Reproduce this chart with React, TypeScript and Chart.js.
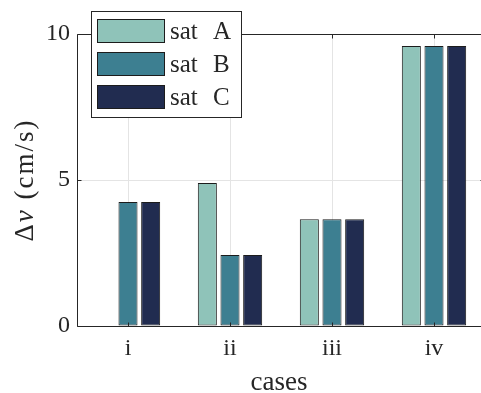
import { useEffect, useRef } from 'react';
import { Chart, registerables } from 'chart.js';

Chart.register(...registerables);

// Δv per case for each satellite (cm/s)
const cases = ['i', 'ii', 'iii', 'iv'];
const satA = [0, 4.9, 3.66, 9.59];
const satB = [4.25, 2.43, 3.66, 9.59];
const satC = [4.25, 2.43, 3.66, 9.59];
const seriesNames = ['sat A', 'sat B', 'sat C'];
const seriesColors = ['#8fc3b9', '#3d7f91', '#212c50'];
const yTicks = [0, 5, 10];
const xTitle = 'cases';

const SERIF = '"Liberation Serif", "DejaVu Serif", serif';
const INK = '#262626';
const GRID = '#e4e4e4';

// Axes box with inward ticks, axis titles, and a legend floating over the plot.
const framePlugin = {
  id: 'frame',
  afterDatasetsDraw(chart: any) {
    const { ctx, chartArea } = chart;
    const { left, right, top, bottom } = chartArea;
    const xs = chart.scales.x;
    const ys = chart.scales.y;
    const L = Math.round(left) + 0.5;
    const R = Math.round(right) - 0.5;
    const T = Math.round(top) + 0.5;
    const B = Math.round(bottom) + 0.5;
    ctx.save();
    ctx.strokeStyle = INK;
    ctx.lineWidth = 1;
    ctx.beginPath();
    ctx.moveTo(L, T);
    ctx.lineTo(R, T);
    ctx.lineTo(R, B);
    ctx.lineTo(L, B);
    ctx.closePath();
    ctx.stroke();
    const tl = 4;
    ctx.beginPath();
    cases.forEach((_, i) => {
      const px = Math.round(xs.getPixelForValue(i)) + 0.5;
      ctx.moveTo(px, B);
      ctx.lineTo(px, B - tl);
      ctx.moveTo(px, T);
      ctx.lineTo(px, T + tl);
    });
    yTicks.forEach((v) => {
      const py = Math.round(ys.getPixelForValue(v)) + 0.5;
      ctx.moveTo(L, py);
      ctx.lineTo(L + tl, py);
      ctx.moveTo(R, py);
      ctx.lineTo(R - tl, py);
    });
    ctx.stroke();

    // y title: Δv (cm/s), with an italic v
    ctx.fillStyle = INK;
    ctx.textBaseline = 'alphabetic';
    const yMid = (top + bottom) / 2;
    ctx.translate(33, yMid);
    ctx.rotate(-Math.PI / 2);
    (ctx as any).letterSpacing = '2px';
    const upright = `27px ${SERIF}`;
    const italic = `italic 27px ${SERIF}`;
    const parts: [string, string][] = [
      ['Δ', upright],
      ['v', italic],
      [' (cm/s)', upright],
    ];
    let total = 0;
    parts.forEach(([t, f]) => {
      ctx.font = f;
      total += ctx.measureText(t).width;
    });
    let cx = -total / 2;
    parts.forEach(([t, f]) => {
      ctx.font = f;
      ctx.fillText(t, cx, 0);
      cx += ctx.measureText(t).width;
    });
    ctx.restore();

    // x title
    ctx.save();
    ctx.fillStyle = INK;
    ctx.font = `27px ${SERIF}`;
    ctx.textAlign = 'center';
    ctx.textBaseline = 'alphabetic';
    ctx.fillText(xTitle, (left + right) / 2 - 2, 390);
    ctx.restore();
  },
  afterDraw(chart: any) {
    const { ctx } = chart;
    const bx = 91.5;
    const by = 11.5;
    const bw = 150;
    const bh = 106;
    ctx.save();
    ctx.fillStyle = '#ffffff';
    ctx.fillRect(bx, by, bw, bh);
    ctx.strokeStyle = INK;
    ctx.lineWidth = 1;
    ctx.strokeRect(bx, by, bw, bh);
    chart.data.datasets.forEach((ds: any, i: number) => {
      const sy = 19 + i * 33;
      ctx.fillStyle = ds.backgroundColor;
      ctx.fillRect(97, sy, 68, 24);
      ctx.strokeStyle = '#1c1c1c';
      ctx.strokeRect(97.5, sy + 0.5, 67, 23);
      ctx.fillStyle = INK;
      ctx.font = `25px ${SERIF}`;
      ctx.textBaseline = 'alphabetic';
      ctx.textAlign = 'left';
      // words spaced wide, as in the math-style label
      const words = String(ds.label).split(' ');
      ctx.fillText(words[0], 170, sy + 20);
      ctx.fillText(words.slice(1).join(' '), 213, sy + 20);
    });
    ctx.restore();
  },
};

export default function App() {
  const ref = useRef<HTMLCanvasElement | null>(null);

  useEffect(() => {
    if (!ref.current) return;
    const series = [satA, satB, satC];
    const chart = new Chart(ref.current, {
      type: 'bar',
      data: {
        labels: cases,
        datasets: series.map((d, i) => ({
          label: seriesNames[i],
          data: d,
          backgroundColor: seriesColors[i],
          borderColor: '#1c1c1c',
          borderWidth: 1,
          borderSkipped: false,
          categoryPercentage: 2 / 3,
          barPercentage: 0.84,
        })),
      },
      options: {
        responsive: false,
        animation: false,
        layout: { padding: { left: 0, right: 5, top: 34, bottom: 0 } },
        plugins: {
          legend: { display: false },
          tooltip: { enabled: false },
          title: { display: false },
        },
        scales: {
          x: {
            type: 'category',
            offset: true,
            grid: { offset: false, color: GRID, lineWidth: 1, drawTicks: false },
            border: { display: false },
            ticks: {
              padding: 8,
              color: INK,
              font: { family: SERIF, size: 24 },
              maxRotation: 0,
            },
            afterFit: (s: any) => {
              s.height = 67;
            },
          },
          y: {
            min: 0,
            max: 10,
            grid: { color: GRID, lineWidth: 1, drawTicks: false },
            border: { display: false },
            ticks: {
              padding: 7,
              color: INK,
              font: { family: SERIF, size: 24 },
            },
            afterBuildTicks: (s: any) => {
              s.ticks = yTicks.map((v) => ({ value: v }));
            },
            afterFit: (s: any) => {
              s.width = 77;
            },
          },
        },
      },
      plugins: [framePlugin],
    });
    return () => chart.destroy();
  }, []);

  return (
    <div
      style={{
        position: 'fixed',
        left: 0,
        top: 0,
        width: 481,
        height: 393,
        overflow: 'hidden',
        background: '#ffffff',
      }}
    >
      <canvas ref={ref} width={490} height={393} style={{ width: 490, height: 393, display: 'block' }} />
    </div>
  );
}
